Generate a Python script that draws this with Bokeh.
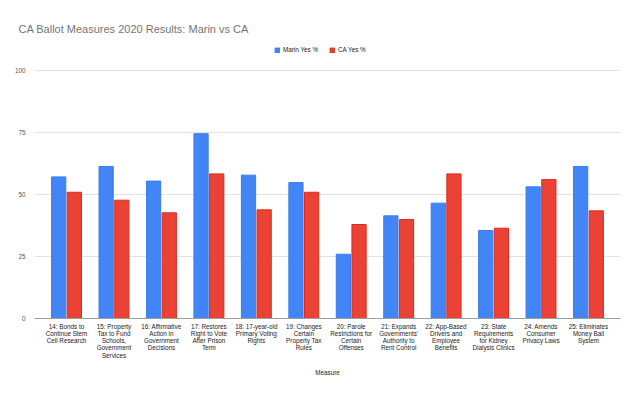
from bokeh.plotting import figure
from bokeh.models import FactorRange, Range1d, Legend, LegendItem, FixedTicker, ColumnDataSource
from bokeh.transform import dodge
from bokeh.embed import file_html
from bokeh.resources import INLINE

measures = [
    "14: Bonds to\nContinue Stem\nCell Research",
    "15: Property\nTax to Fund\nSchools,\nGovernment\nServices",
    "16: Affirmative\nAction in\nGovernment\nDecisions",
    "17: Restores\nRight to Vote\nAfter Prison\nTerm",
    "18: 17-year-old\nPrimary Voting\nRights",
    "19: Changes\nCertain\nProperty Tax\nRules",
    "20: Parole\nRestrictions for\nCertain\nOffenses",
    "21: Expands\nGovernments'\nAuthority to\nRent Control",
    "22: App-Based\nDrivers and\nEmployee\nBenefits",
    "23: State\nRequirements\nfor Kidney\nDialysis Clinics",
    "24: Amends\nConsumer\nPrivacy Laws",
    "25: Eliminates\nMoney Bail\nSystem",
]
marin_yes = [57.1, 61.3, 55.4, 74.5, 57.8, 54.8, 25.9, 41.4, 46.5, 35.5, 53.1, 61.3]
ca_yes = [50.9, 47.7, 42.6, 58.3, 43.8, 50.9, 37.9, 39.9, 58.3, 36.4, 56.0, 43.4]
y_ticks = [0, 25, 50, 75, 100]

FONT = "Liberation Sans"

src = ColumnDataSource(dict(measure=measures, marin=marin_yes, ca=ca_yes))

p = figure(
    width=624, height=380,
    x_range=FactorRange(factors=measures, range_padding=0.0292),
    y_range=Range1d(0, 113.7),
    output_backend="svg", toolbar_location=None,
    min_border_left=34, min_border_right=4, min_border_top=36, min_border_bottom=62,
    title="CA Ballot Measures 2020 Results: Marin vs CA",
)
p.outline_line_color = None
p.background_fill_color = "white"

r1 = p.vbar(x=dodge("measure", -0.165, range=p.x_range), top="marin", width=0.3,
            source=src, fill_color="#4285F4", line_color="#3a7cf0", line_width=1)
r2 = p.vbar(x=dodge("measure", 0.165, range=p.x_range), top="ca", width=0.3,
            source=src, fill_color="#EA4335", line_color="#dc2a1c", line_width=1)

p.title.text_font = FONT
p.title.text_font_size = "11px"
p.title.text_font_style = "normal"
p.title.text_color = "#757575"
p.title.align = "left"
p.title.offset = -16
p.title.standoff = 4

# y axis
p.yaxis.ticker = FixedTicker(ticks=y_ticks)
p.yaxis.axis_line_color = None
p.yaxis.major_tick_line_color = None
p.yaxis.minor_tick_line_color = None
p.yaxis.major_label_text_font = FONT
p.yaxis.major_label_text_font_size = "6.3px"
p.yaxis.major_label_text_color = "#555555"
p.yaxis.major_label_standoff = 3

# x axis
p.xaxis.axis_line_color = "#9e9e9e"
p.xaxis.axis_line_width = 1
p.xaxis.major_tick_line_color = None
p.xaxis.minor_tick_line_color = None
p.xaxis.major_tick_out = 0
p.xaxis.major_label_text_font = FONT
p.xaxis.major_label_text_font_size = "6.3px"
p.xaxis.major_label_text_color = "#222222"
p.xaxis.major_label_text_line_height = 1.04
p.xaxis.major_label_standoff = 4
p.xaxis.axis_label = "Measure"
p.xaxis.axis_label_text_font = FONT
p.xaxis.axis_label_text_font_size = "6.3px"
p.xaxis.axis_label_text_font_style = "normal"
p.xaxis.axis_label_text_color = "#222222"
p.xaxis.axis_label_standoff = 7

p.xgrid.grid_line_color = None
p.ygrid.grid_line_color = "#e2e2e2"
p.ygrid.grid_line_width = 1

legend = Legend(
    items=[LegendItem(label="Marin Yes %", renderers=[r1]),
           LegendItem(label="CA Yes %", renderers=[r2])],
    orientation="horizontal",
    location=(240, 265),
    label_text_font=FONT, label_text_font_size="6.3px", label_text_color="#222222",
    glyph_width=6, glyph_height=6, label_standoff=3, spacing=11,
    padding=0, margin=0, border_line_color=None, background_fill_alpha=0,
    label_height=6,
)
p.add_layout(legend, "center")

open("out.html", "w").write(file_html(p, INLINE))
